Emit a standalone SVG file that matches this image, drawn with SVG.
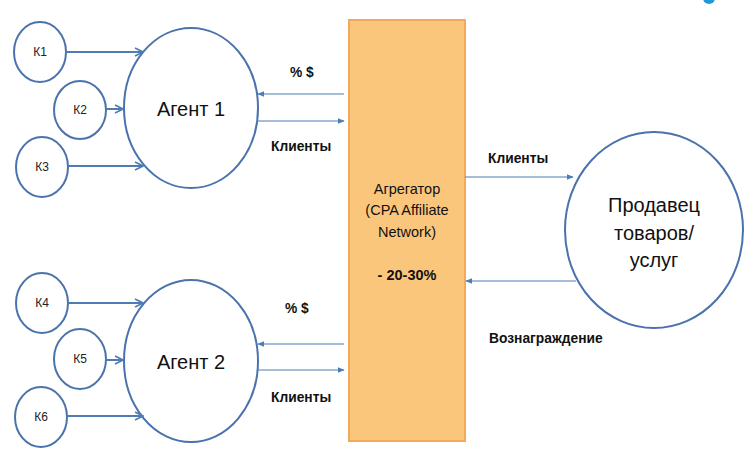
<svg xmlns="http://www.w3.org/2000/svg" width="756" height="457" viewBox="0 0 756 457">
<style>
.node{fill:#fff;stroke:#4A72AC;stroke-width:2}
.k{font-family:"Liberation Sans",Arial,sans-serif;font-size:12px;fill:#222;text-anchor:middle}
.big{font-family:"Liberation Sans",Arial,sans-serif;font-size:20px;fill:#111;text-anchor:middle}
.mid{font-family:"Liberation Sans",Arial,sans-serif;font-size:14.5px;fill:#111;text-anchor:middle}
.lbl{font-family:"Liberation Sans",Arial,sans-serif;font-size:13.8px;font-weight:bold;fill:#111}
.thick{stroke:#4F7CB5;stroke-width:2;fill:none;marker-end:url(#open)}
.thin{stroke:#4F7CB5;stroke-width:1.2;fill:none;marker-end:url(#tri)}
</style>
<defs>
<marker id="open" viewBox="0 0 10 10" refX="9" refY="5" markerWidth="5" markerHeight="5" orient="auto" markerUnits="strokeWidth">
<path d="M1,1 L9,5 L1,9" fill="none" stroke="#4F7CB5" stroke-width="1.6"/>
</marker>
<marker id="tri" viewBox="0 0 10 10" refX="9" refY="5" markerWidth="6" markerHeight="6" orient="auto" markerUnits="strokeWidth">
<path d="M0,1 L10,5 L0,9 Z" fill="#4F7CB5"/>
</marker>
</defs>
<rect width="756" height="457" fill="#fff"/>
<circle cx="709" cy="-2" r="6" fill="#1E9AD8"/>

<g id="agg">
<rect x="349" y="20" width="116" height="421" fill="#FAC67C" stroke="#F2A95C" stroke-width="2"/>
<text class="mid" x="407" y="194">Агрегатор</text>
<text class="mid" x="407" y="215">(CPA Affiliate</text>
<text class="mid" x="407" y="237">Network)</text>
<text class="mid" x="407" y="280" font-weight="bold">- 20-30%</text>
</g>

<g id="agent1">
<ellipse class="node" cx="191" cy="108" rx="67" ry="80"/>
<text class="big" x="191" y="116">Агент 1</text>
</g>
<g id="agent2">
<ellipse class="node" cx="191" cy="361" rx="67" ry="81"/>
<text class="big" x="191" y="369">Агент 2</text>
</g>
<g id="seller">
<ellipse class="node" cx="654" cy="230" rx="89" ry="98"/>
<text class="big" x="654" y="212">Продавец</text>
<text class="big" x="654" y="240">товаров/</text>
<text class="big" x="654" y="267">услуг</text>
</g>

<g id="k1"><ellipse class="node" cx="40" cy="52" rx="26" ry="30"/><text class="k" x="40" y="56">К1</text></g>
<g id="k2"><ellipse class="node" cx="80" cy="110" rx="26" ry="29"/><text class="k" x="80" y="114">К2</text></g>
<g id="k3"><ellipse class="node" cx="42" cy="167" rx="26" ry="30"/><text class="k" x="42" y="171">К3</text></g>
<g id="k4"><ellipse class="node" cx="42" cy="303" rx="26" ry="30"/><text class="k" x="42" y="307">К4</text></g>
<g id="k5"><ellipse class="node" cx="80" cy="359" rx="26" ry="30"/><text class="k" x="80" y="363">К5</text></g>
<g id="k6"><ellipse class="node" cx="41" cy="417" rx="26" ry="30"/><text class="k" x="41" y="421">К6</text></g>

<g id="connectors">
<line class="thick" x1="67" y1="52" x2="143" y2="52"/>
<line class="thick" x1="106" y1="109" x2="123" y2="109"/>
<line class="thick" x1="68" y1="166" x2="143" y2="166"/>
<line class="thick" x1="68" y1="303" x2="143" y2="303"/>
<line class="thick" x1="106" y1="360" x2="123" y2="360"/>
<line class="thick" x1="67" y1="416" x2="143" y2="416"/>
<line class="thin" x1="344" y1="94" x2="258" y2="94"/>
<line class="thin" x1="258" y1="121" x2="344" y2="121"/>
<line class="thin" x1="344" y1="344" x2="258" y2="344"/>
<line class="thin" x1="258" y1="370" x2="344" y2="370"/>
<line class="thin" x1="465" y1="177" x2="573" y2="177"/>
<line class="thin" x1="576" y1="281" x2="466" y2="281"/>
</g>

<g id="labels">
<text class="lbl" x="290" y="77">% $</text>
<text class="lbl" x="271" y="151">Клиенты</text>
<text class="lbl" x="285" y="313">% $</text>
<text class="lbl" x="271" y="402">Клиенты</text>
<text class="lbl" x="488" y="163">Клиенты</text>
<text class="lbl" x="489" y="343">Вознаграждение</text>
</g>
</svg>
